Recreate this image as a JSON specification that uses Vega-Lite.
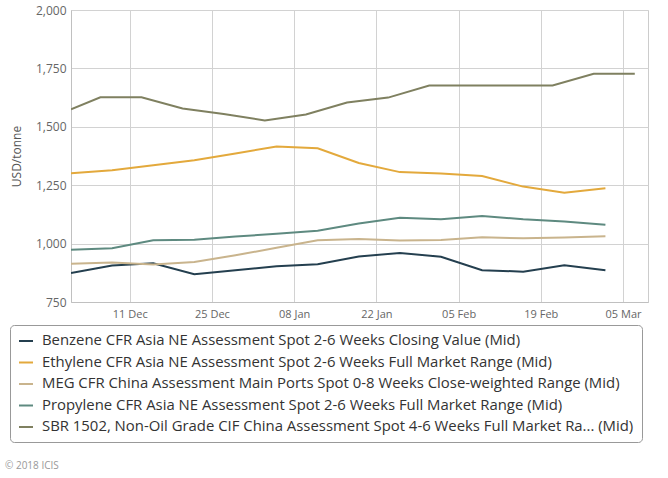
{
  "$schema": "https://vega.github.io/schema/vega-lite/v6.json",
  "width": 577,
  "height": 292,
  "autosize": {"type": "none"},
  "padding": {"left": 71, "top": 10, "right": 20, "bottom": 176},
  "background": "white",
  "title": {
    "text": "© 2018 ICIS",
    "orient": "bottom",
    "anchor": "start",
    "frame": "group",
    "dx": -66,
    "offset": 18,
    "fontSize": 10,
    "fontWeight": "normal",
    "color": "#999999",
    "font": "Open Sans"
  },
  "config": {
    "view": {"stroke": "#cccccc", "strokeWidth": 1},
    "axis": {
      "labelFont": "Open Sans",
      "titleFont": "Open Sans",
      "labelColor": "#666666",
      "titleColor": "#555555",
      "gridColor": "#d2d2d2",
      "domainColor": "#c0c0c0",
      "ticks": false
    },
    "legend": {
      "labelFont": "Open Sans"
    }
  },
  "data": {
    "values": [
      {"series": "Benzene CFR Asia NE Assessment Spot 2-6 Weeks Closing Value (Mid)", "date": "2017-12-01T00:00:00", "value": 874},
      {"series": "Benzene CFR Asia NE Assessment Spot 2-6 Weeks Closing Value (Mid)", "date": "2017-12-08T00:00:00", "value": 906},
      {"series": "Benzene CFR Asia NE Assessment Spot 2-6 Weeks Closing Value (Mid)", "date": "2017-12-15T00:00:00", "value": 916},
      {"series": "Benzene CFR Asia NE Assessment Spot 2-6 Weeks Closing Value (Mid)", "date": "2017-12-22T00:00:00", "value": 869},
      {"series": "Benzene CFR Asia NE Assessment Spot 2-6 Weeks Closing Value (Mid)", "date": "2017-12-29T00:00:00", "value": 886},
      {"series": "Benzene CFR Asia NE Assessment Spot 2-6 Weeks Closing Value (Mid)", "date": "2018-01-05T00:00:00", "value": 903},
      {"series": "Benzene CFR Asia NE Assessment Spot 2-6 Weeks Closing Value (Mid)", "date": "2018-01-12T00:00:00", "value": 912},
      {"series": "Benzene CFR Asia NE Assessment Spot 2-6 Weeks Closing Value (Mid)", "date": "2018-01-19T00:00:00", "value": 945},
      {"series": "Benzene CFR Asia NE Assessment Spot 2-6 Weeks Closing Value (Mid)", "date": "2018-01-26T00:00:00", "value": 960},
      {"series": "Benzene CFR Asia NE Assessment Spot 2-6 Weeks Closing Value (Mid)", "date": "2018-02-02T00:00:00", "value": 944},
      {"series": "Benzene CFR Asia NE Assessment Spot 2-6 Weeks Closing Value (Mid)", "date": "2018-02-09T00:00:00", "value": 886},
      {"series": "Benzene CFR Asia NE Assessment Spot 2-6 Weeks Closing Value (Mid)", "date": "2018-02-16T00:00:00", "value": 880},
      {"series": "Benzene CFR Asia NE Assessment Spot 2-6 Weeks Closing Value (Mid)", "date": "2018-02-23T00:00:00", "value": 907},
      {"series": "Benzene CFR Asia NE Assessment Spot 2-6 Weeks Closing Value (Mid)", "date": "2018-03-02T00:00:00", "value": 886},

      {"series": "Ethylene CFR Asia NE Assessment Spot 2-6 Weeks Full Market Range (Mid)", "date": "2017-12-01T00:00:00", "value": 1301},
      {"series": "Ethylene CFR Asia NE Assessment Spot 2-6 Weeks Full Market Range (Mid)", "date": "2017-12-08T00:00:00", "value": 1314},
      {"series": "Ethylene CFR Asia NE Assessment Spot 2-6 Weeks Full Market Range (Mid)", "date": "2017-12-15T00:00:00", "value": 1335},
      {"series": "Ethylene CFR Asia NE Assessment Spot 2-6 Weeks Full Market Range (Mid)", "date": "2017-12-22T00:00:00", "value": 1357},
      {"series": "Ethylene CFR Asia NE Assessment Spot 2-6 Weeks Full Market Range (Mid)", "date": "2017-12-29T00:00:00", "value": 1386},
      {"series": "Ethylene CFR Asia NE Assessment Spot 2-6 Weeks Full Market Range (Mid)", "date": "2018-01-05T00:00:00", "value": 1416},
      {"series": "Ethylene CFR Asia NE Assessment Spot 2-6 Weeks Full Market Range (Mid)", "date": "2018-01-12T00:00:00", "value": 1408},
      {"series": "Ethylene CFR Asia NE Assessment Spot 2-6 Weeks Full Market Range (Mid)", "date": "2018-01-19T00:00:00", "value": 1345},
      {"series": "Ethylene CFR Asia NE Assessment Spot 2-6 Weeks Full Market Range (Mid)", "date": "2018-01-26T00:00:00", "value": 1306},
      {"series": "Ethylene CFR Asia NE Assessment Spot 2-6 Weeks Full Market Range (Mid)", "date": "2018-02-02T00:00:00", "value": 1300},
      {"series": "Ethylene CFR Asia NE Assessment Spot 2-6 Weeks Full Market Range (Mid)", "date": "2018-02-09T00:00:00", "value": 1289},
      {"series": "Ethylene CFR Asia NE Assessment Spot 2-6 Weeks Full Market Range (Mid)", "date": "2018-02-16T00:00:00", "value": 1244},
      {"series": "Ethylene CFR Asia NE Assessment Spot 2-6 Weeks Full Market Range (Mid)", "date": "2018-02-23T00:00:00", "value": 1218},
      {"series": "Ethylene CFR Asia NE Assessment Spot 2-6 Weeks Full Market Range (Mid)", "date": "2018-03-02T00:00:00", "value": 1237},

      {"series": "MEG CFR China Assessment Main Ports Spot 0-8 Weeks Close-weighted Range (Mid)", "date": "2017-12-01T00:00:00", "value": 914},
      {"series": "MEG CFR China Assessment Main Ports Spot 0-8 Weeks Close-weighted Range (Mid)", "date": "2017-12-08T00:00:00", "value": 919},
      {"series": "MEG CFR China Assessment Main Ports Spot 0-8 Weeks Close-weighted Range (Mid)", "date": "2017-12-15T00:00:00", "value": 911},
      {"series": "MEG CFR China Assessment Main Ports Spot 0-8 Weeks Close-weighted Range (Mid)", "date": "2017-12-22T00:00:00", "value": 921},
      {"series": "MEG CFR China Assessment Main Ports Spot 0-8 Weeks Close-weighted Range (Mid)", "date": "2017-12-29T00:00:00", "value": 950},
      {"series": "MEG CFR China Assessment Main Ports Spot 0-8 Weeks Close-weighted Range (Mid)", "date": "2018-01-05T00:00:00", "value": 982},
      {"series": "MEG CFR China Assessment Main Ports Spot 0-8 Weeks Close-weighted Range (Mid)", "date": "2018-01-12T00:00:00", "value": 1014},
      {"series": "MEG CFR China Assessment Main Ports Spot 0-8 Weeks Close-weighted Range (Mid)", "date": "2018-01-19T00:00:00", "value": 1020},
      {"series": "MEG CFR China Assessment Main Ports Spot 0-8 Weeks Close-weighted Range (Mid)", "date": "2018-01-26T00:00:00", "value": 1013},
      {"series": "MEG CFR China Assessment Main Ports Spot 0-8 Weeks Close-weighted Range (Mid)", "date": "2018-02-02T00:00:00", "value": 1015},
      {"series": "MEG CFR China Assessment Main Ports Spot 0-8 Weeks Close-weighted Range (Mid)", "date": "2018-02-09T00:00:00", "value": 1027},
      {"series": "MEG CFR China Assessment Main Ports Spot 0-8 Weeks Close-weighted Range (Mid)", "date": "2018-02-16T00:00:00", "value": 1023},
      {"series": "MEG CFR China Assessment Main Ports Spot 0-8 Weeks Close-weighted Range (Mid)", "date": "2018-02-23T00:00:00", "value": 1026},
      {"series": "MEG CFR China Assessment Main Ports Spot 0-8 Weeks Close-weighted Range (Mid)", "date": "2018-03-02T00:00:00", "value": 1031},

      {"series": "Propylene CFR Asia NE Assessment Spot 2-6 Weeks Full Market Range (Mid)", "date": "2017-12-01T00:00:00", "value": 974},
      {"series": "Propylene CFR Asia NE Assessment Spot 2-6 Weeks Full Market Range (Mid)", "date": "2017-12-08T00:00:00", "value": 980},
      {"series": "Propylene CFR Asia NE Assessment Spot 2-6 Weeks Full Market Range (Mid)", "date": "2017-12-15T00:00:00", "value": 1014},
      {"series": "Propylene CFR Asia NE Assessment Spot 2-6 Weeks Full Market Range (Mid)", "date": "2017-12-22T00:00:00", "value": 1017},
      {"series": "Propylene CFR Asia NE Assessment Spot 2-6 Weeks Full Market Range (Mid)", "date": "2017-12-29T00:00:00", "value": 1030},
      {"series": "Propylene CFR Asia NE Assessment Spot 2-6 Weeks Full Market Range (Mid)", "date": "2018-01-05T00:00:00", "value": 1042},
      {"series": "Propylene CFR Asia NE Assessment Spot 2-6 Weeks Full Market Range (Mid)", "date": "2018-01-12T00:00:00", "value": 1055},
      {"series": "Propylene CFR Asia NE Assessment Spot 2-6 Weeks Full Market Range (Mid)", "date": "2018-01-19T00:00:00", "value": 1086},
      {"series": "Propylene CFR Asia NE Assessment Spot 2-6 Weeks Full Market Range (Mid)", "date": "2018-01-26T00:00:00", "value": 1111},
      {"series": "Propylene CFR Asia NE Assessment Spot 2-6 Weeks Full Market Range (Mid)", "date": "2018-02-02T00:00:00", "value": 1104},
      {"series": "Propylene CFR Asia NE Assessment Spot 2-6 Weeks Full Market Range (Mid)", "date": "2018-02-09T00:00:00", "value": 1118},
      {"series": "Propylene CFR Asia NE Assessment Spot 2-6 Weeks Full Market Range (Mid)", "date": "2018-02-16T00:00:00", "value": 1104},
      {"series": "Propylene CFR Asia NE Assessment Spot 2-6 Weeks Full Market Range (Mid)", "date": "2018-02-23T00:00:00", "value": 1095},
      {"series": "Propylene CFR Asia NE Assessment Spot 2-6 Weeks Full Market Range (Mid)", "date": "2018-03-02T00:00:00", "value": 1081},

      {"series": "SBR 1502, Non-Oil Grade CIF China Assessment Spot 4-6 Weeks Full Market Ra... (Mid)", "date": "2017-12-01T00:00:00", "value": 1575},
      {"series": "SBR 1502, Non-Oil Grade CIF China Assessment Spot 4-6 Weeks Full Market Ra... (Mid)", "date": "2017-12-06T00:00:00", "value": 1626},
      {"series": "SBR 1502, Non-Oil Grade CIF China Assessment Spot 4-6 Weeks Full Market Ra... (Mid)", "date": "2017-12-13T00:00:00", "value": 1626},
      {"series": "SBR 1502, Non-Oil Grade CIF China Assessment Spot 4-6 Weeks Full Market Ra... (Mid)", "date": "2017-12-20T00:00:00", "value": 1578},
      {"series": "SBR 1502, Non-Oil Grade CIF China Assessment Spot 4-6 Weeks Full Market Ra... (Mid)", "date": "2017-12-27T00:00:00", "value": 1555},
      {"series": "SBR 1502, Non-Oil Grade CIF China Assessment Spot 4-6 Weeks Full Market Ra... (Mid)", "date": "2018-01-03T00:00:00", "value": 1527},
      {"series": "SBR 1502, Non-Oil Grade CIF China Assessment Spot 4-6 Weeks Full Market Ra... (Mid)", "date": "2018-01-10T00:00:00", "value": 1553},
      {"series": "SBR 1502, Non-Oil Grade CIF China Assessment Spot 4-6 Weeks Full Market Ra... (Mid)", "date": "2018-01-17T00:00:00", "value": 1604},
      {"series": "SBR 1502, Non-Oil Grade CIF China Assessment Spot 4-6 Weeks Full Market Ra... (Mid)", "date": "2018-01-24T00:00:00", "value": 1625},
      {"series": "SBR 1502, Non-Oil Grade CIF China Assessment Spot 4-6 Weeks Full Market Ra... (Mid)", "date": "2018-01-31T00:00:00", "value": 1677},
      {"series": "SBR 1502, Non-Oil Grade CIF China Assessment Spot 4-6 Weeks Full Market Ra... (Mid)", "date": "2018-02-07T00:00:00", "value": 1677},
      {"series": "SBR 1502, Non-Oil Grade CIF China Assessment Spot 4-6 Weeks Full Market Ra... (Mid)", "date": "2018-02-14T00:00:00", "value": 1677},
      {"series": "SBR 1502, Non-Oil Grade CIF China Assessment Spot 4-6 Weeks Full Market Ra... (Mid)", "date": "2018-02-21T00:00:00", "value": 1677},
      {"series": "SBR 1502, Non-Oil Grade CIF China Assessment Spot 4-6 Weeks Full Market Ra... (Mid)", "date": "2018-02-28T00:00:00", "value": 1727},
      {"series": "SBR 1502, Non-Oil Grade CIF China Assessment Spot 4-6 Weeks Full Market Ra... (Mid)", "date": "2018-03-07T00:00:00", "value": 1727}
    ]
  },
  "mark": {"type": "line", "strokeWidth": 2, "clip": true},
  "encoding": {
    "x": {
      "field": "date",
      "type": "temporal",
      "scale": {
        "domain": [
          {"year": 2017, "month": 12, "date": 1},
          {"year": 2018, "month": 3, "date": 9, "hours": 6}
        ]
      },
      "axis": {
        "title": null,
        "format": "%d %b",
        "values": [
          {"year": 2017, "month": 12, "date": 11},
          {"year": 2017, "month": 12, "date": 25},
          {"year": 2018, "month": 1, "date": 8},
          {"year": 2018, "month": 1, "date": 22},
          {"year": 2018, "month": 2, "date": 5},
          {"year": 2018, "month": 2, "date": 19},
          {"year": 2018, "month": 3, "date": 5}
        ],
        "labelFontSize": 11,
        "labelPadding": 6,
        "grid": true
      }
    },
    "y": {
      "field": "value",
      "type": "quantitative",
      "scale": {"domain": [750, 2000], "nice": false, "zero": false},
      "axis": {
        "title": "USD/tonne",
        "values": [750, 1000, 1250, 1500, 1750, 2000],
        "format": ",.0f",
        "labelFontSize": 12,
        "labelPadding": 5,
        "titleFontSize": 12,
        "titleFontWeight": "normal",
        "titlePadding": 12,
        "grid": true
      }
    },
    "color": {
      "field": "series",
      "type": "nominal",
      "scale": {
        "domain": [
          "Benzene CFR Asia NE Assessment Spot 2-6 Weeks Closing Value (Mid)",
          "Ethylene CFR Asia NE Assessment Spot 2-6 Weeks Full Market Range (Mid)",
          "MEG CFR China Assessment Main Ports Spot 0-8 Weeks Close-weighted Range (Mid)",
          "Propylene CFR Asia NE Assessment Spot 2-6 Weeks Full Market Range (Mid)",
          "SBR 1502, Non-Oil Grade CIF China Assessment Spot 4-6 Weeks Full Market Ra... (Mid)"
        ],
        "range": ["#243f4f", "#e3a93c", "#c9b48d", "#5e8a80", "#7f8060"]
      },
      "legend": {
        "title": null,
        "orient": "none",
        "legendX": -61,
        "legendY": 315,
        "symbolType": "stroke",
        "symbolSize": 196,
        "symbolStrokeWidth": 2,
        "labelFontSize": 14.9,
        "labelColor": "#333333",
        "labelOffset": 8,
        "labelLimit": 700,
        "rowPadding": 6.5,
        "padding": 8,
        "strokeColor": "#999999",
        "cornerRadius": 4,
        "fillColor": "white"
      }
    }
  }
}
